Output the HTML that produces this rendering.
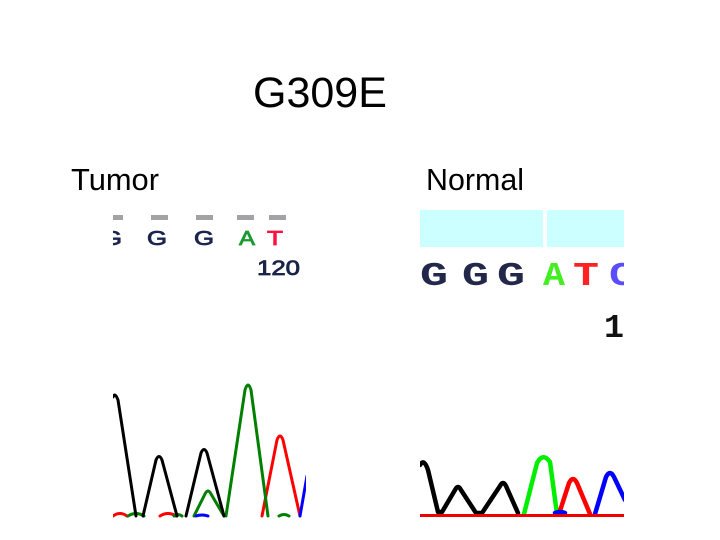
<!DOCTYPE html>
<html><head><meta charset="utf-8"><style>
html,body{margin:0;padding:0;background:#fff;}
svg{display:block;}
text{font-family:"Liberation Sans",sans-serif;}
.m{font-family:"Liberation Mono","DejaVu Sans Mono",monospace;font-weight:bold;}
</style></head><body>
<svg width="720" height="540" viewBox="0 0 720 540" xmlns="http://www.w3.org/2000/svg">
<defs>
<clipPath id="ct"><rect x="113" y="200" width="193" height="320"/></clipPath>
<clipPath id="cn"><rect x="420" y="200" width="204" height="320"/></clipPath>
</defs>
<rect width="720" height="540" fill="#fff"/>
<text x="253" y="107" font-size="43" fill="#000">G309E</text>
<text x="71" y="190" font-size="30.5" textLength="88" lengthAdjust="spacingAndGlyphs" fill="#000">Tumor</text>
<text x="426" y="190" font-size="30.5" textLength="98" lengthAdjust="spacingAndGlyphs" fill="#000">Normal</text>

<g clip-path="url(#ct)">
<g fill="#a3a3a6">
<rect x="113" y="215" width="10" height="5"/>
<rect x="151" y="215" width="17" height="5"/>
<rect x="196" y="215" width="17" height="5"/>
<rect x="237" y="215" width="17" height="5"/>
<rect x="269" y="215" width="17" height="5"/>
</g>
<g stroke-width="0.8">
<text x="102" y="245" font-size="20" textLength="20" lengthAdjust="spacingAndGlyphs" fill="#1b2550" stroke="#1b2550">G</text>
<text x="147" y="245" font-size="20" textLength="20" lengthAdjust="spacingAndGlyphs" fill="#1b2550" stroke="#1b2550">G</text>
<text x="194" y="245" font-size="20" textLength="20" lengthAdjust="spacingAndGlyphs" fill="#1b2550" stroke="#1b2550">G</text>
<text x="239" y="245" font-size="20" textLength="16" lengthAdjust="spacingAndGlyphs" fill="#1a9a30" stroke="#1a9a30">A</text>
<text x="267" y="245" font-size="20" textLength="16" lengthAdjust="spacingAndGlyphs" fill="#ff1040" stroke="#ff1040">T</text>
<text x="257" y="275" font-size="21" textLength="43" lengthAdjust="spacingAndGlyphs" fill="#1b2447" stroke="#1b2447">120</text>
</g>

<g fill="none" stroke-width="3" stroke-linejoin="round" stroke-linecap="round">
<path stroke="#ff0000" d="M113,516 Q120,511 127,516 M160,516 Q168,511 176,516 M262,516 L277,440 Q280,432 283,440 L300,516"/>
<path stroke="#008000" d="M128,516 Q136,511 144,516 M174,516 Q178,513 182,516 M194,516 L205,494 Q208,488 211,494 L224,516 M226,516 L245,390 Q248,380 251,390 L268,516 M279,516 Q284,513 289,516"/>
<path stroke="#0000ff" d="M196,516 Q202,514 208,516 M300,516 L307,476"/>
<path stroke="#000" d="M113,397 Q115,392 118,400 L136,516 M143,516 L156,460 Q159,453 162,460 L177,516 M186,516 L201,453 Q204,446 207,453 L224,516"/>
</g>
</g>

<g clip-path="url(#cn)">
<rect x="420" y="210" width="123" height="37" fill="#ccffff"/>
<rect x="547" y="210" width="80" height="37" fill="#ccffff"/>
<g font-size="33">
<text class="m" x="420" y="285" textLength="28" lengthAdjust="spacingAndGlyphs" fill="#23284a">G</text>
<text class="m" x="462" y="285" textLength="27" lengthAdjust="spacingAndGlyphs" fill="#23284a">G</text>
<text class="m" x="497" y="285" textLength="28" lengthAdjust="spacingAndGlyphs" fill="#23284a">G</text>
<text class="m" x="543" y="285" textLength="22" lengthAdjust="spacingAndGlyphs" fill="#44ee22">A</text>
<text class="m" x="573" y="285" textLength="26" lengthAdjust="spacingAndGlyphs" fill="#ff2222">T</text>
<text class="m" x="609" y="285" textLength="26" lengthAdjust="spacingAndGlyphs" fill="#5a4cff">C</text>
<text class="m" x="604" y="337" textLength="40" lengthAdjust="spacingAndGlyphs" fill="#111">12</text>
</g>
<g fill="none" stroke-width="4.5" stroke-linejoin="round" stroke-linecap="round">
<path stroke="#000" d="M420,465 Q424,458 428,470 L438,512 L442,512 L455,490 Q458,484 461,490 L476,513 L482,513 L500,486 Q503,480 506,486 L518,513"/>
<path stroke="#00ee00" d="M524,514 L537,463 Q543,452 550,462 L557,514"/>
<path stroke="#ff0000" d="M559,514 L569,483 Q573,475 577,483 L590,514"/>
<path stroke="#0000ff" d="M595,514 L606,477 Q610,469 614,477 L625,500 M555,513 Q560,511 565,513"/>
<line x1="420" y1="515.5" x2="624" y2="515.5" stroke="#ee0000" stroke-width="3"/>
</g>
</g>
</svg>
</body></html>
